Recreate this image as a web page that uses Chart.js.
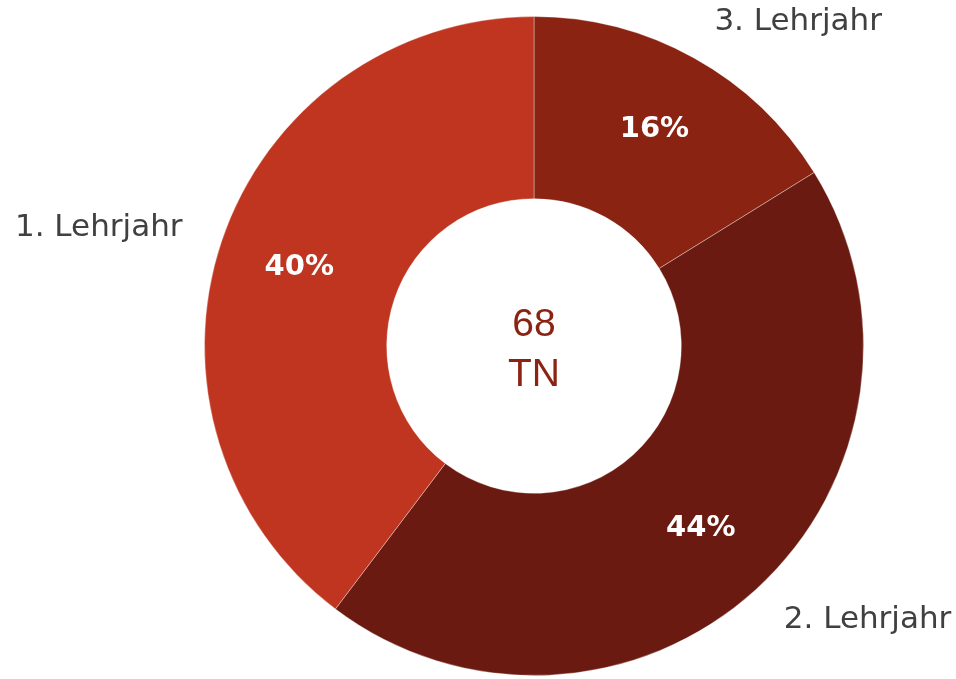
<!DOCTYPE html>
<html>
<head>
<meta charset="utf-8">
<script src="https://cdn.jsdelivr.net/npm/chart.js@4/dist/chart.umd.min.js"></script>
<style>
  html, body { margin: 0; padding: 0; background: #fff; }
  #wrap { width: 956px; height: 679px; position: relative; }
</style>
</head>
<body>
<div id="wrap"><canvas id="myChart"></canvas></div>
<script>
// data, clockwise from the top
var labels = ['3. Lehrjahr', '2. Lehrjahr', '1. Lehrjahr'];
var counts = [11, 30, 27];
var colors = ['#8b2312', '#6a1a10', '#c03520'];
var centerLines = ['68', 'TN'];

var total = counts.reduce(function (a, b) { return a + b; }, 0);

// percent in the ring, names outside, total in the hole
var labelPlugin = {
    id: 'ringLabels',
    afterDatasetsDraw: function (chart) {
        var ctx = chart.ctx;
        var arcs = chart.getDatasetMeta(0).data;
        ctx.save();
        arcs.forEach(function (arc, i) {
            var p = arc.getProps(['x', 'y', 'startAngle', 'endAngle', 'innerRadius', 'outerRadius'], true);
            var mid = (p.startAngle + p.endAngle) / 2;
            var cos = Math.cos(mid), sin = Math.sin(mid);

            var rIn = p.innerRadius + (p.outerRadius - p.innerRadius) * 0.55;
            ctx.fillStyle = '#ffffff';
            ctx.font = 'bold 29px "DejaVu Sans"';
            ctx.textAlign = 'center';
            ctx.textBaseline = 'middle';
            ctx.fillText(Math.round(counts[i] / total * 100) + '%', p.x + rIn * cos, p.y + rIn * sin);

            var rOut = p.outerRadius * 1.125;
            ctx.fillStyle = '#404040';
            ctx.font = '31px "DejaVu Sans"';
            ctx.textAlign = cos >= 0 ? 'left' : 'right';
            ctx.fillText(labels[i], p.x + rOut * cos, p.y + rOut * sin);
        });

        var c = arcs[0];
        ctx.fillStyle = '#8b2312';
        ctx.font = '39px "Liberation Sans"';
        ctx.textAlign = 'center';
        ctx.textBaseline = 'middle';
        ctx.fillText(centerLines[0], c.x, c.y - 21);
        ctx.fillText(centerLines[1], c.x, c.y + 29);
        ctx.restore();
    }
};

var ctx = document.getElementById('myChart').getContext('2d');
var myChart = new Chart(ctx, {
    type: 'doughnut',
    data: {
        labels: labels,
        datasets: [{
            data: counts,
            backgroundColor: colors,
            borderColor: 'rgba(255,255,255,0.35)',
            borderWidth: 1
        }]
    },
    options: {
        responsive: true,
        maintainAspectRatio: false,
        animation: false,
        cutout: '44.7%',
        layout: {
            padding: { top: 16, bottom: 3, left: 200, right: 88 }
        },
        plugins: {
            legend: { display: false },
            tooltip: { enabled: false }
        }
    },
    plugins: [labelPlugin]
});
</script>
</body>
</html>
